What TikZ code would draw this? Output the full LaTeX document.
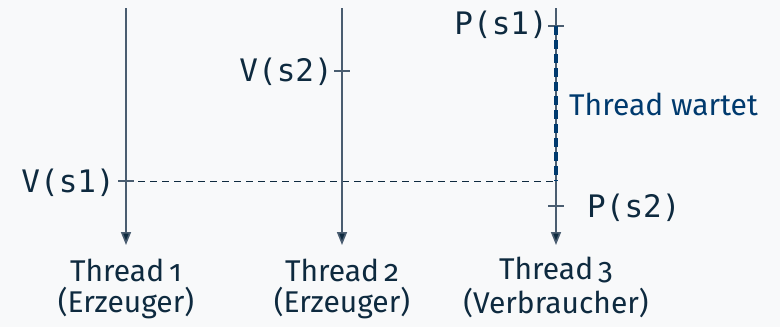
\documentclass[tikz,border=0pt]{standalone}
\usepackage{fontspec}
\setmainfont{Fira Sans}[Numbers=OldStyle]
\setmonofont{DejaVu Sans Mono}
\usetikzlibrary{arrows.meta}
\definecolor{bg}{HTML}{F8F9FA}
\definecolor{ink}{HTML}{0E2A3F}
\definecolor{lin}{HTML}{4A5D70}
\definecolor{wblue}{HTML}{003A6E}
\begin{document}
\begin{tikzpicture}[x=1pt,y=-1pt,
  thread/.style={draw=lin,line width=1.6pt,-{Triangle[length=13pt,width=10pt,fill=ink]}},
  tick/.style={draw=lin,line width=1.1pt},
  lbl/.style={text=ink,font=\fontsize{30}{34}\selectfont,inner sep=0pt,align=center},
  op/.style={text=ink,font=\ttfamily\fontsize{31}{34}\selectfont,inner sep=0pt},
  waitline/.style={draw=wblue,line width=4.5pt,dash pattern=on 9pt off 5pt},
  sync/.style={draw=ink,line width=1pt,dash pattern=on 7pt off 5pt}]
\fill[bg] (0,0) rectangle (780,327);
\useasboundingbox (0,0) rectangle (780,327);
% thread endpoints
\coordinate (t1s) at (126,8);  \coordinate (t1e) at (126,245);
\coordinate (t2s) at (342,8);  \coordinate (t2e) at (342,245);
\coordinate (t3s) at (556,8);  \coordinate (t3e) at (556,245);
% event points
\coordinate (v1) at (126,181);
\coordinate (v2) at (342,71);
\coordinate (p1) at (556,26);
\coordinate (p2) at (556,206);
\coordinate (w2) at (556,181);
% tick ends
\coordinate (v1a) at (118,181); \coordinate (v1b) at (134,181);
\coordinate (v2a) at (334,71);  \coordinate (v2b) at (350,71);
\coordinate (p1a) at (548,26);  \coordinate (p1b) at (564,26);
\coordinate (p2a) at (548,206); \coordinate (p2b) at (564,206);
% sync line
\draw[sync] (v1) -- (w2);
% threads
\draw[thread] (t1s) -- (t1e);
\draw[thread] (t2s) -- (t2e);
\draw[thread] (t3s) -- (t3e);
% ticks
\draw[tick] (v1a) -- (v1b);
\draw[tick] (v2a) -- (v2b);
\draw[tick] (p1a) -- (p1b);
\draw[tick] (p2a) -- (p2b);
% wait line
\draw[waitline] (p1) -- (w2);
% operation labels
\node[op,anchor=east] (lv1) at (115,183) {V(s1)};
\node[op,anchor=east] (lv2) at (333,72) {V(s2)};
\node[op,anchor=east] (lp1) at (548,25) {P(s1)};
\node[op,anchor=west] (lp2) at (587,208) {P(s2)};
\node[anchor=west,inner sep=0pt,text=wblue,font=\fontsize{30}{34}\selectfont] (wt) at (569,104) {Thread wartet};
% thread labels
\node[lbl] (l1a) at (126,270) {Thread\,1};
\node[lbl] (l1b) at (126,303) {(Erzeuger)};
\node[lbl] (l2a) at (342,270) {Thread\,2};
\node[lbl] (l2b) at (342,303) {(Erzeuger)};
\node[lbl] (l3a) at (556,270) {Thread\,3};
\node[lbl] (l3b) at (556,303) {(Verbraucher)};
\end{tikzpicture}
\end{document}
